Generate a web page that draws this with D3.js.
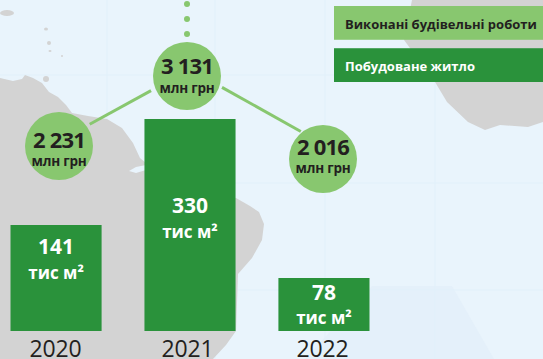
<!DOCTYPE html>
<html>
<head>
<meta charset="utf-8">
<script src="https://cdn.jsdelivr.net/npm/d3@7"></script>
<style>
  html, body { margin: 0; padding: 0; background: #e9f4fc; overflow: hidden; }
  text { font-family: "Open Sans", "Noto Sans", sans-serif; }
</style>
</head>
<body>
<div id="chart"></div>
<script>
// values
const years = ["2020", "2021", "2022"];
const housing = [141, 330, 78];          // тис м2
const works = [2231, 3131, 2016];        // млн грн
const worksLabels = ["2 231", "3 131", "2 016"];
const legendLabels = ["Виконані будівельні роботи", "Побудоване житло"];

const lightGreen = "#88c76f", darkGreen = "#2a923b", ink = "#231f20";
const width = 543, height = 359;

const svg = d3.select("#chart").append("svg")
    .attr("width", width)
    .attr("height", height)
    .style("display", "block");

// Background map
const bg = svg.append("g");
bg.append("rect").attr("width", width).attr("height", height).attr("fill", "#e9f4fc");
bg.append("path")
    .attr("d", "M305,359L372,286H452L494,359Z")
    .attr("fill", "#e4f0fa");
[107, 215, 325, 435].forEach(x => bg.append("line")
    .attr("x1", x).attr("x2", x).attr("y1", 0).attr("y2", height)
    .attr("stroke", "#e1f0fa"));
[75, 183, 290].forEach(y => bg.append("line")
    .attr("x1", 0).attr("x2", width).attr("y1", y).attr("y2", y)
    .attr("stroke", "#e1f0fa"));

const landFill = "#d3d3d3";
bg.append("path")
    .attr("fill", landFill)
    .attr("d", "M0,78L13,81L22,79L25,75L33,78L42,83L49,92L58,97L66,105L72,113L88,116L107,119L122,128L133,143L140,158L146,163L146,180L236,198L250,206L259,212L264,224L262,240L252,258L238,274L236,331L226,345L213,359H0Z");
bg.append("path")
    .attr("fill", landFill)
    .attr("d", "M412,0L404,40L435,82L447,102L468,122L485,130L500,125L528,127L543,122V0Z");
bg.append("path")
    .attr("fill", "#e9f4fc")
    .attr("d", "M129,171L136,167L146,165V170L136,173Z");
// small islands
[[7, 13, 7, 3], [46, 29, 2, 1.5], [49, 43, 2, 2], [50, 51, 1.5, 1], [62, 56, 1, 1], [46, 79, 3, 3]]
    .forEach(e => bg.append("ellipse")
        .attr("cx", e[0]).attr("cy", e[1]).attr("rx", e[2]).attr("ry", e[3])
        .attr("fill", landFill));

// Scales
const x = d3.scaleBand().domain(years).range([10.5, 369.5]).paddingInner(0.32);
const barHeight = d3.scaleLinear().domain([0, 78, 141, 330]).range([0, 53, 106, 212]);
const baseY = 331;

const circleX = d3.scaleOrdinal().domain(years).range([59, 187, 323]);
const circleY = d3.scaleLinear().domain([2016, 2231, 3131]).range([159, 146, 76]);
const r = 34;

const data = years.map((year, i) => ({
    year, housing: housing[i], works: works[i], label: worksLabels[i]
}));

// Year axis
const labelX = d3.scaleOrdinal().domain(years).range([55, 187, 322]);
const axis = svg.append("g")
    .attr("transform", "translate(0," + baseY + ")")
    .call(d3.axisBottom(labelX).tickSize(0).tickPadding(0));
axis.select(".domain").remove();
axis.selectAll("text")
    .attr("y", 26)
    .attr("dy", 0)
    .attr("font-size", 23)
    .attr("font-family", '"Open Sans", sans-serif')
    .attr("letter-spacing", "-0.2px")
    .attr("fill", ink);

// Bars
svg.selectAll("rect.bar")
    .data(data)
    .enter()
    .append("rect")
    .attr("class", "bar")
    .attr("x", d => x(d.year))
    .attr("y", d => baseY - barHeight(d.housing))
    .attr("width", x.bandwidth())
    .attr("height", d => barHeight(d.housing))
    .attr("fill", darkGreen);

const barValueY = d3.scaleOrdinal().domain(years).range([254, 213, 300]);
const barUnitY = d3.scaleOrdinal().domain(years).range([279, 238, 324]);

svg.selectAll("text.bar-value")
    .data(data)
    .enter()
    .append("text")
    .attr("class", "bar-value")
    .attr("x", d => x(d.year) + x.bandwidth() / 2)
    .attr("y", d => barValueY(d.year))
    .attr("text-anchor", "middle")
    .attr("font-size", 21)
    .attr("font-weight", 700)
    .attr("fill", "#fff")
    .text(d => d.housing);

svg.selectAll("text.bar-unit")
    .data(data)
    .enter()
    .append("text")
    .attr("class", "bar-unit")
    .attr("x", d => x(d.year) + x.bandwidth() / 2)
    .attr("y", d => barUnitY(d.year))
    .attr("text-anchor", "middle")
    .attr("font-size", 17)
    .attr("font-weight", 700)
    .attr("fill", "#fff")
    .text("тис м²");

// Connectors: how far each end stops short of its circle, and how far it sits above the centre line
const connectorGaps = [[35, 41], [41, 26]];
const connectorLift = [[5, 5], [10, 14]];
d3.pairs(data).forEach(([a, b], i) => {
    const x0 = circleX(a.year), y0 = circleY(a.works);
    const x1 = circleX(b.year), y1 = circleY(b.works);
    const len = Math.hypot(x1 - x0, y1 - y0);
    const ux = (x1 - x0) / len, uy = (y1 - y0) / len;
    svg.append("line")
        .attr("x1", x0 + ux * connectorGaps[i][0])
        .attr("y1", y0 + uy * connectorGaps[i][0] - connectorLift[i][0])
        .attr("x2", x1 - ux * connectorGaps[i][1])
        .attr("y2", y1 - uy * connectorGaps[i][1] - connectorLift[i][1])
        .attr("stroke", lightGreen)
        .attr("stroke-width", 3);
});

// Dots running up from 2021
[4, 19, 34].forEach(y => svg.append("circle")
    .attr("cx", circleX("2021"))
    .attr("cy", y)
    .attr("r", 3)
    .attr("fill", lightGreen));

svg.selectAll("circle.works")
    .data(data)
    .enter()
    .append("circle")
    .attr("class", "works")
    .attr("cx", d => circleX(d.year))
    .attr("cy", d => circleY(d.works))
    .attr("r", r)
    .attr("fill", lightGreen);

const worksValueY = d3.scaleOrdinal().domain(years).range([148, 74, 155]);
const worksUnitY = d3.scaleOrdinal().domain(years).range([166, 93, 173]);

svg.selectAll("text.works-value")
    .data(data)
    .enter()
    .append("text")
    .attr("class", "works-value")
    .attr("x", d => circleX(d.year))
    .attr("y", d => worksValueY(d.year))
    .attr("text-anchor", "middle")
    .attr("font-size", 22)
    .attr("font-weight", 700)
    .attr("letter-spacing", "-0.8px")
    .attr("fill", ink)
    .text(d => d.label);

svg.selectAll("text.works-unit")
    .data(data)
    .enter()
    .append("text")
    .attr("class", "works-unit")
    .attr("x", d => circleX(d.year))
    .attr("y", d => worksUnitY(d.year))
    .attr("text-anchor", "middle")
    .attr("font-size", 13.5)
    .attr("font-weight", 700)
    .attr("letter-spacing", "-0.2px")
    .attr("fill", ink)
    .text("млн грн");

// Legend
const legendY = d3.scaleBand().domain(legendLabels).range([6, 82]).paddingInner(0.2);
const legend = svg.selectAll("g.legend")
    .data(legendLabels)
    .enter()
    .append("g")
    .attr("class", "legend");
legend.append("rect")
    .attr("x", 334)
    .attr("y", d => legendY(d))
    .attr("width", width - 334)
    .attr("height", legendY.bandwidth())
    .attr("fill", (d, i) => i === 0 ? lightGreen : darkGreen);
legend.append("text")
    .attr("x", 345)
    .attr("y", d => legendY(d) + 23)
    .attr("font-size", 13)
    .attr("font-weight", 700)
    .attr("fill", (d, i) => i === 0 ? ink : "#fff")
    .text(d => d);
</script>
</body>
</html>
